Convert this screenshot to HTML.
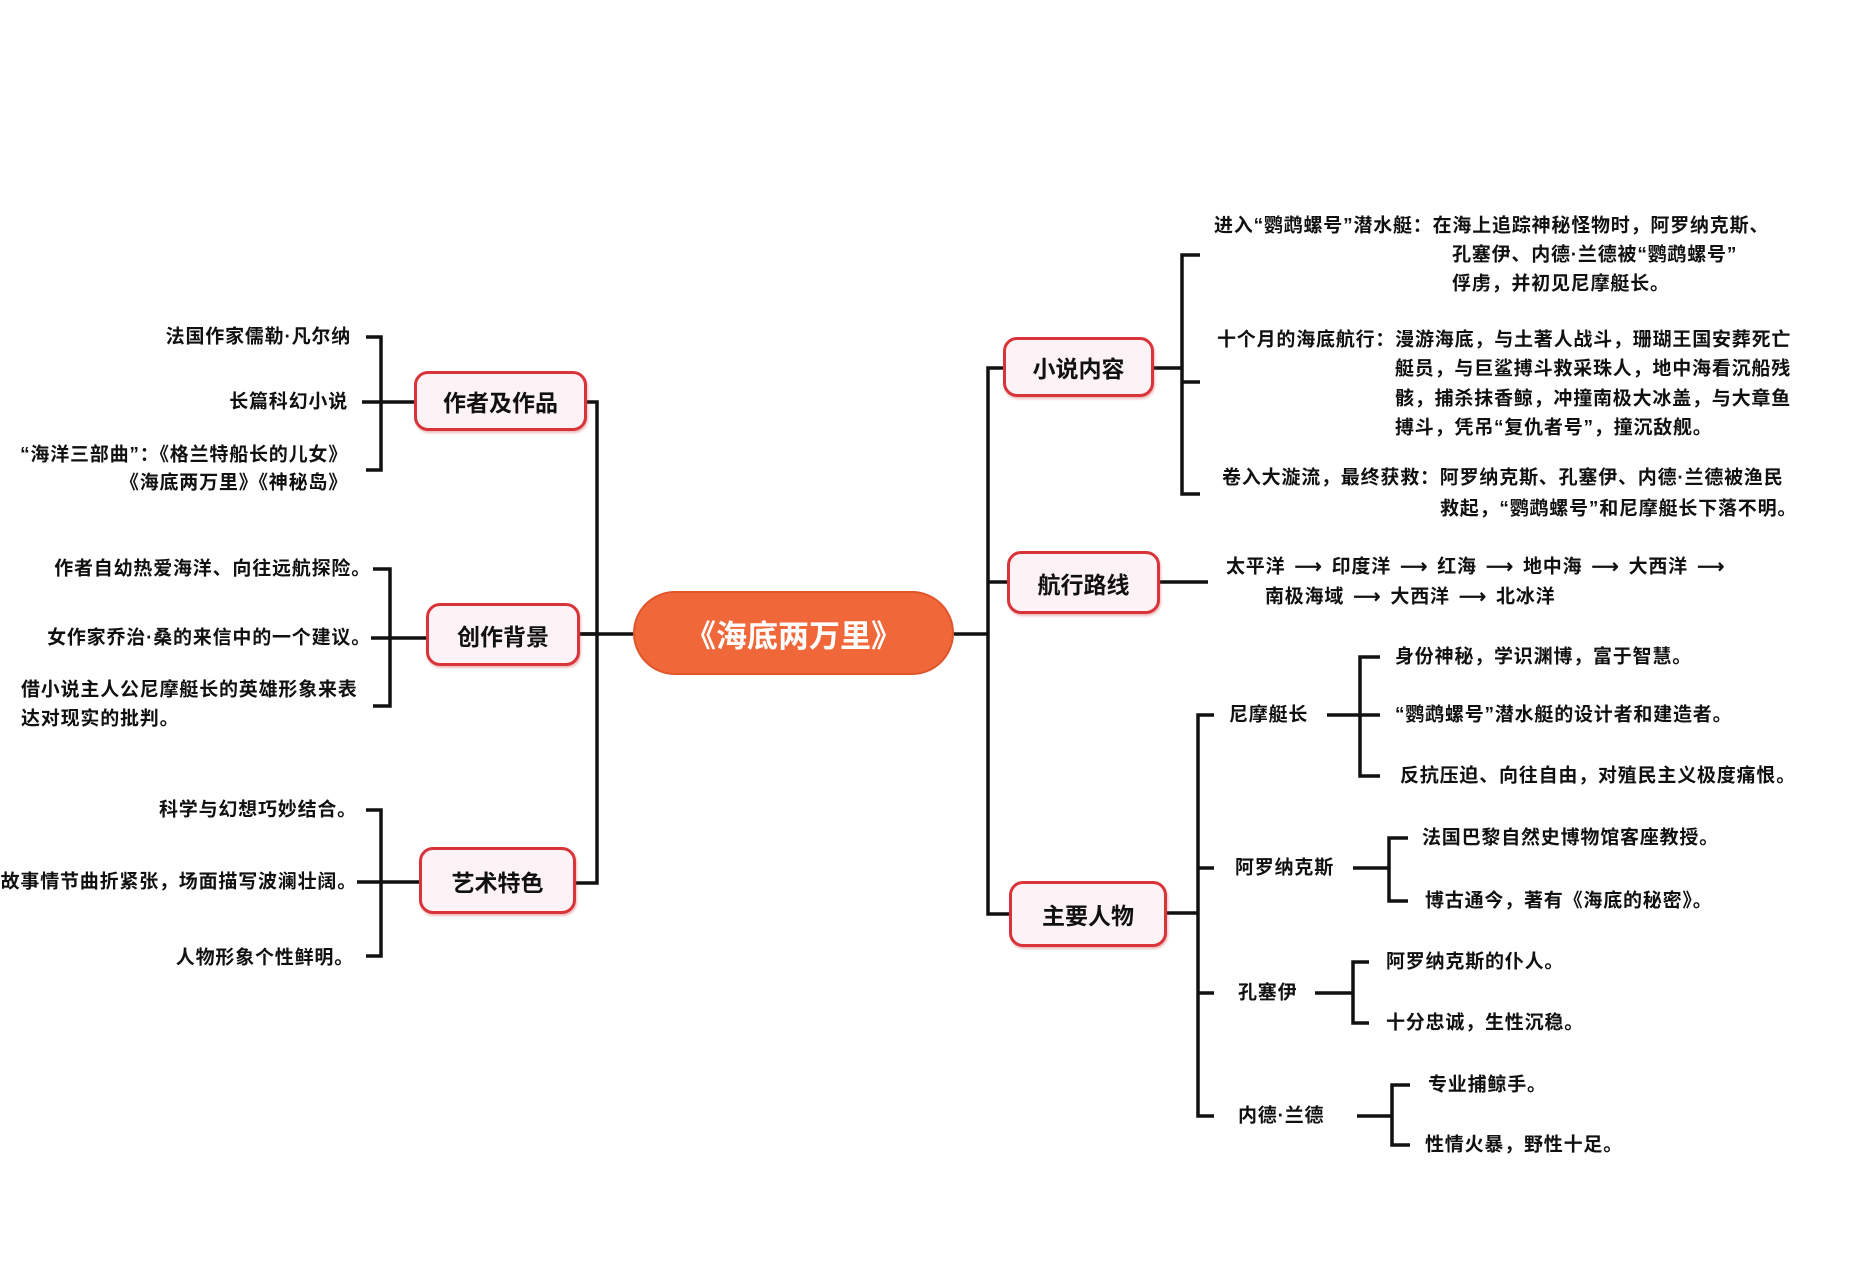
<!DOCTYPE html>
<html><head><meta charset="utf-8">
<style>
body{margin:0;width:1866px;height:1280px;background:#fff;position:relative;overflow:hidden;font-family:"Liberation Sans","Noto Sans CJK SC",sans-serif;color:#111}
.t{position:absolute;transform:translateY(-50%);white-space:nowrap;font-size:19px;letter-spacing:0.8px;font-weight:bold;line-height:1}
.r{text-align:right}
.n{position:absolute;box-sizing:border-box;border:3px solid #d8343a;border-radius:14px;background:#fdf2f5;display:flex;align-items:center;justify-content:center;font-size:23px;font-weight:bold;color:#111;box-shadow:1px 2px 2px rgba(200,60,60,.35)}
.c{position:absolute;left:633px;top:591px;width:321px;height:84px;border-radius:42px;background:#f0673a;color:#fff;display:flex;align-items:center;justify-content:center;font-size:31px;font-weight:bold;border:2px solid #e0552a;box-sizing:border-box}
</style></head><body>
<svg width="1866" height="1280" style="position:absolute;left:0;top:0" fill="none" stroke="#111" stroke-width="3.5">
<path d="M580 634H633M954 634H988"/>
<path d="M587 402H597V883H576"/>
<path d="M580 634H597"/>
<path d="M366 337H381V470H366M362 402H414"/>
<path d="M373 569H390V706H373M371 638H426"/>
<path d="M366 810H381V956H366M357 882H419"/>
<path d="M1003 368H988V914H1009M988 582H1007"/>
<path d="M1154 368H1182M1200 255H1182V494H1200M1182 382H1200"/>
<path d="M1160 582H1208"/>
<path d="M1167 913H1198M1214 715H1198V1116H1214M1198 868H1214M1198 993H1214"/>
<path d="M1327 715H1380M1380 657H1360V776H1380"/>
<path d="M1353 868H1389M1408 838H1389V901H1408"/>
<path d="M1315 993H1353M1369 962H1353V1023H1369"/>
<path d="M1357 1116H1392M1410 1085H1392V1145H1410"/>
</svg>

<div class="c">《海底两万里》</div>
<div class="n" style="left:414px;top:371px;width:173px;height:60px">作者及作品</div>
<div class="n" style="left:426px;top:603px;width:154px;height:63px">创作背景</div>
<div class="n" style="left:419px;top:847px;width:157px;height:67px">艺术特色</div>
<div class="n" style="left:1003px;top:337px;width:151px;height:60px">小说内容</div>
<div class="n" style="left:1007px;top:551px;width:153px;height:63px">航行路线</div>
<div class="n" style="left:1009px;top:881px;width:158px;height:66px">主要人物</div>

<div class="t r" style="right:1515px;top:337px">法国作家儒勒·凡尔纳</div>
<div class="t r" style="right:1518px;top:402px">长篇科幻小说</div>
<div class="t r" style="right:1518px;top:455px">“海洋三部曲”：《格兰特船长的儿女》</div>
<div class="t r" style="right:1518px;top:483px">《海底两万里》《神秘岛》</div>
<div class="t r" style="right:1495px;top:569px">作者自幼热爱海洋、向往远航探险。</div>
<div class="t r" style="right:1495px;top:638px">女作家乔治·桑的来信中的一个建议。</div>
<div class="t" style="left:21px;top:690px">借小说主人公尼摩艇长的英雄形象来表</div>
<div class="t" style="left:21px;top:719px">达对现实的批判。</div>
<div class="t r" style="right:1509px;top:810px">科学与幻想巧妙结合。</div>
<div class="t r" style="right:1509px;top:882px">故事情节曲折紧张，场面描写波澜壮阔。</div>
<div class="t r" style="right:1512px;top:958px">人物形象个性鲜明。</div>

<div class="t" style="left:1214px;top:226px">进入“鹦鹉螺号”潜水艇：在海上追踪神秘怪物时，阿罗纳克斯、</div>
<div class="t" style="left:1452px;top:255px">孔塞伊、内德·兰德被“鹦鹉螺号”</div>
<div class="t" style="left:1452px;top:284px">俘虏，并初见尼摩艇长。</div>
<div class="t" style="left:1217px;top:340px">十个月的海底航行：漫游海底，与土著人战斗，珊瑚王国安葬死亡</div>
<div class="t" style="left:1395px;top:369px">艇员，与巨鲨搏斗救采珠人，地中海看沉船残</div>
<div class="t" style="left:1395px;top:399px">骸，捕杀抹香鲸，冲撞南极大冰盖，与大章鱼</div>
<div class="t" style="left:1395px;top:428px">搏斗，凭吊“复仇者号”，撞沉敌舰。</div>
<div class="t" style="left:1222px;top:478px">卷入大漩流，最终获救：阿罗纳克斯、孔塞伊、内德·兰德被渔民</div>
<div class="t" style="left:1440px;top:509px">救起，“鹦鹉螺号”和尼摩艇长下落不明。</div>

<div class="t" style="left:1226px;top:567px;word-spacing:3px">太平洋 ⟶ 印度洋 ⟶ 红海 ⟶ 地中海 ⟶ 大西洋 ⟶</div>
<div class="t" style="left:1265px;top:597px;word-spacing:3px">南极海域 ⟶ 大西洋 ⟶ 北冰洋</div>

<div class="t" style="left:1229px;top:715px">尼摩艇长</div>
<div class="t" style="left:1395px;top:657px">身份神秘，学识渊博，富于智慧。</div>
<div class="t" style="left:1395px;top:715px">“鹦鹉螺号”潜水艇的设计者和建造者。</div>
<div class="t" style="left:1400px;top:776px">反抗压迫、向往自由，对殖民主义极度痛恨。</div>
<div class="t" style="left:1235px;top:868px">阿罗纳克斯</div>
<div class="t" style="left:1422px;top:838px">法国巴黎自然史博物馆客座教授。</div>
<div class="t" style="left:1425px;top:901px">博古通今，著有《海底的秘密》。</div>
<div class="t" style="left:1238px;top:993px">孔塞伊</div>
<div class="t" style="left:1386px;top:962px">阿罗纳克斯的仆人。</div>
<div class="t" style="left:1386px;top:1023px">十分忠诚，生性沉稳。</div>
<div class="t" style="left:1238px;top:1116px">内德·兰德</div>
<div class="t" style="left:1428px;top:1085px">专业捕鲸手。</div>
<div class="t" style="left:1425px;top:1145px">性情火暴，野性十足。</div>
</body></html>
